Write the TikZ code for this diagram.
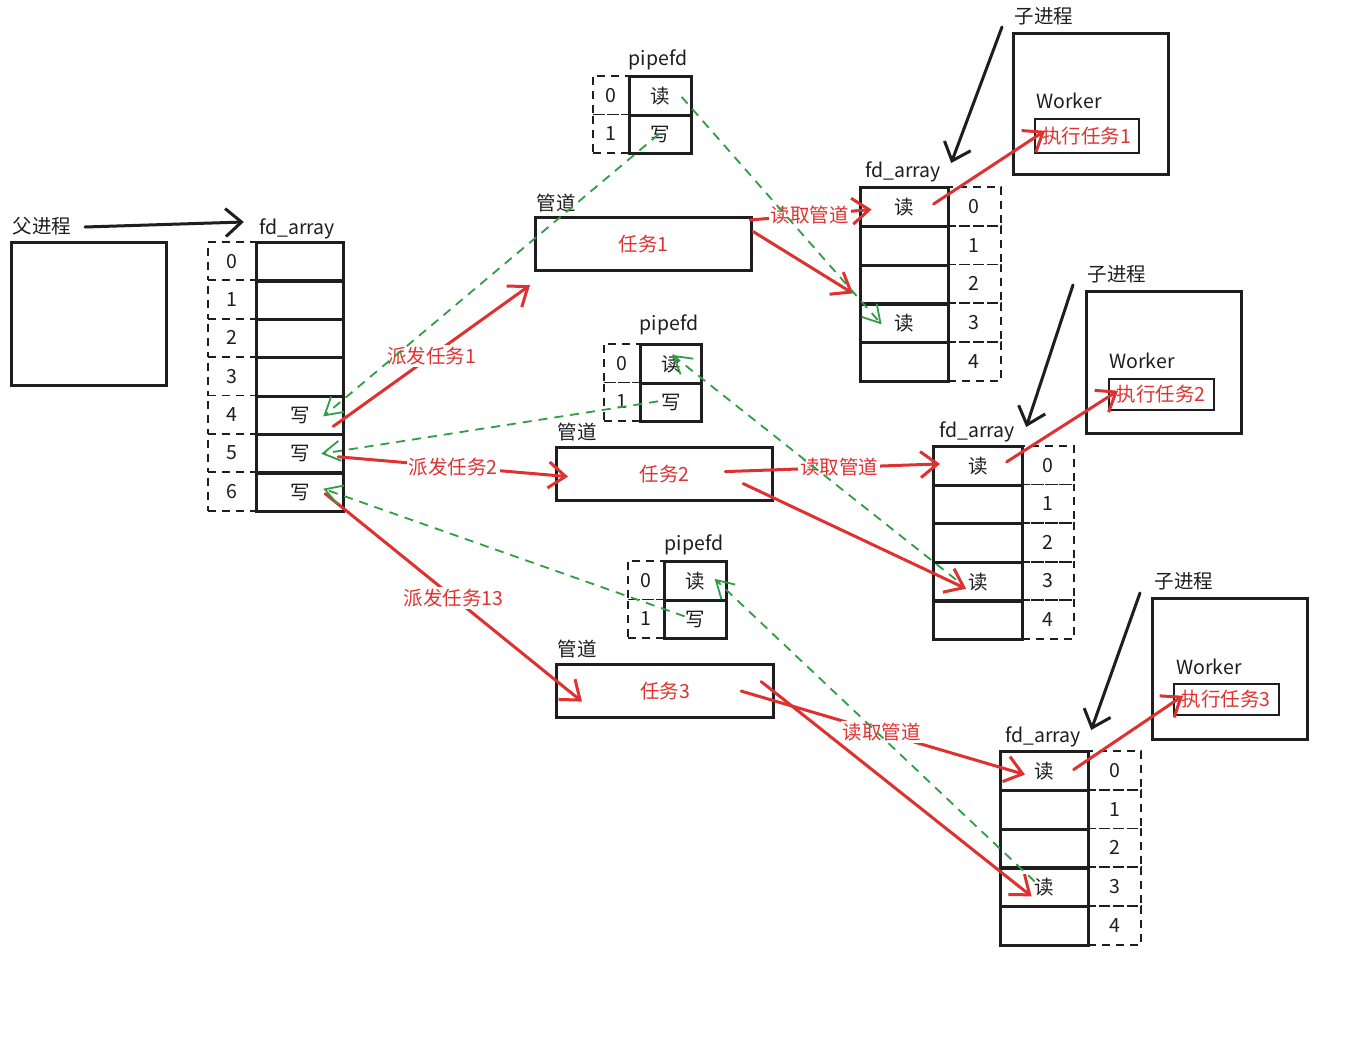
\documentclass[tikz,border=0pt]{standalone}
\usepackage{fontspec}
\newfontfamily\cjk{Noto Sans CJK SC}
\usetikzlibrary{arrows.meta,calc}
\definecolor{ink}{HTML}{1E1E1E}
\definecolor{xred}{HTML}{E03131}
\definecolor{xgreen}{HTML}{2F9E44}
\begin{document}
\begin{tikzpicture}[x=1pt,y=-1pt,
 every node/.style={font=\cjk\fontsize{19.5}{22}\selectfont, text=ink, inner sep=2pt},
 cell/.style={draw=ink, line width=3.2pt, anchor=north west, inner sep=0pt},
 idx/.style={draw=ink, line width=1.8pt, dash pattern=on 8pt off 6pt, anchor=north west, inner sep=0pt},
 box/.style={draw=ink, line width=3.2pt, anchor=north west, inner sep=0pt},
 thinbox/.style={draw=ink, line width=1.5pt, anchor=north west, inner sep=0pt, text=xred},
 redarr/.style={draw=xred, line width=3pt, line cap=round, -{Straight Barb[length=17pt,width=26pt]}},
 grnarr/.style={draw=xgreen, line width=1.8pt, dash pattern=on 9pt off 7pt, -{Straight Barb[length=17pt,width=20pt]}},
 blkarr/.style={draw=ink, line width=3pt, line cap=round, -{Straight Barb[length=16pt,width=28pt]}},
 lbl/.style={fill=white, text=xred, inner sep=2pt}
]
\useasboundingbox[fill=white] (0,0) rectangle (1350,1044);

% ---------- parent ----------
\node[box, minimum width=155pt, minimum height=143pt] (parent) at (10,241) {};
\node (lp) at (42,226) {父进程};
\node (fdp) at (297,229) {fd\_array};
\foreach \i/\t in {0/{},1/{},2/{},3/{},4/写,5/写,6/写} {
  \node[idx, minimum width=48pt, minimum height=38.4pt] (pi\i) at (207,{241+38.4*\i}) {\i};
  \node[cell, minimum width=87pt, minimum height=38.4pt] (pa\i) at (255,{241+38.4*\i}) {\t};
}

% ---------- pipe 1 ----------
\node (pf1l) at (658,60) {pipefd};
\foreach \i/\t in {0/读,1/写} {
  \node[idx, minimum width=36pt, minimum height=38.5pt] (pf1i\i) at (592,{75+38.5*\i}) {\i};
  \node[cell, minimum width=62pt, minimum height=38.5pt] (pf1c\i) at (628,{75+38.5*\i}) {\t};
}
\node (gd1) at (556,203) {管道};
\node[box, minimum width=216pt, minimum height=53pt, text=xred] (pipe1) at (534,216) {任务1};

% ---------- pipe 2 ----------
\node (pf2l) at (669,325) {pipefd};
\foreach \i/\t in {0/读,1/写} {
  \node[idx, minimum width=36pt, minimum height=38.5pt] (pf2i\i) at (603,{343+38.5*\i}) {\i};
  \node[cell, minimum width=61pt, minimum height=38.5pt] (pf2c\i) at (639,{343+38.5*\i}) {\t};
}
\node (gd2) at (577,432) {管道};
\node[box, minimum width=216pt, minimum height=53pt, text=xred] (pipe2) at (555,446) {任务2};

% ---------- pipe 3 ----------
\node (pf3l) at (694,545) {pipefd};
\foreach \i/\t in {0/读,1/写} {
  \node[idx, minimum width=36pt, minimum height=38.5pt] (pf3i\i) at (627,{560+38.5*\i}) {\i};
  \node[cell, minimum width=62pt, minimum height=38.5pt] (pf3c\i) at (663,{560+38.5*\i}) {\t};
}
\node (gd3) at (577,649) {管道};
\node[box, minimum width=217pt, minimum height=53pt, text=xred] (pipe3) at (555,663) {任务3};

% ---------- child 1 ----------
\node (fdc1) at (903,172) {fd\_array};
\foreach \i/\t in {0/读,1/{},2/{},3/读,4/{}} {
  \node[idx, minimum width=53pt, minimum height=38.8pt] (c1i\i) at (947,{186+38.8*\i}) {\i};
  \node[cell, minimum width=88pt, minimum height=38.8pt] (c1a\i) at (859,{186+38.8*\i}) {\t};
}
\node (lc1) at (1044,16) {子进程};
\node[box, minimum width=155pt, minimum height=141pt] (cp1) at (1012,32) {};
\node (wk1) at (1069,101) {Worker};
\node[thinbox, minimum width=104pt, minimum height=34pt] (w1) at (1034,118) {执行任务1};

% ---------- child 2 ----------
\node (fdc2) at (977,432) {fd\_array};
\foreach \i/\t in {0/读,1/{},2/{},3/读,4/{}} {
  \node[idx, minimum width=52pt, minimum height=38.6pt] (c2i\i) at (1021,{445+38.6*\i}) {\i};
  \node[cell, minimum width=89pt, minimum height=38.6pt] (c2a\i) at (932,{445+38.6*\i}) {\t};
}
\node (lc2) at (1117,274) {子进程};
\node[box, minimum width=155pt, minimum height=142pt] (cp2) at (1085,290) {};
\node (wk2) at (1142,361) {Worker};
\node[thinbox, minimum width=105pt, minimum height=31pt] (w2) at (1108,378) {执行任务2};

% ---------- child 3 ----------
\node (fdc3) at (1043,737) {fd\_array};
\foreach \i/\t in {0/读,1/{},2/{},3/读,4/{}} {
  \node[idx, minimum width=53pt, minimum height=38.8pt] (c3i\i) at (1087,{750+38.8*\i}) {\i};
  \node[cell, minimum width=88pt, minimum height=38.8pt] (c3a\i) at (999,{750+38.8*\i}) {\t};
}
\node (lc3) at (1184,581) {子进程};
\node[box, minimum width=155pt, minimum height=141pt] (cp3) at (1151,597) {};
\node (wk3) at (1209,667) {Worker};
\node[thinbox, minimum width=105pt, minimum height=31pt] (w3) at (1173,683) {执行任务3};

% ---------- black arrows ----------
\draw[blkarr] ($(parent.north west)+(75,-14)$) -- ($(pi0.north east)+(-13,-19)$);
\draw[blkarr] ($(cp1.north west)+(-10,-5)$) -- ($(c1a0.north east)+(1,-23)$);
\draw[blkarr] ($(cp2.north west)+(-12,-5)$) -- ($(c2a0.north east)+(2,-18)$);
\draw[blkarr] ($(cp3.north west)+(-11,-4)$) -- ($(c3a0.north east)+(1,-20)$);

% ---------- red dispatch ----------
\draw[redarr] ($(pa4.east)+(-12,11)$) -- node[lbl]{派发任务1} ($(pipe1.south west)+(-4,13)$);
\draw[redarr] ($(pa5.east)+(-7,3)$) -- node[lbl]{派发任务2} ($(pipe2.west)+(13,2.5)$);
\draw[redarr] ($(pa6.east)+(-20,1.5)$) -- node[lbl]{派发任务13} ($(pipe3.west)+(27,10.5)$);

% ---------- red reads ----------
\draw[redarr] ($(pipe1.north east)+(-3,4)$) -- node[lbl,pos=0.49]{读取管道} ($(c1a0.center)+(-33,2.5)$);
\draw[redarr] ($(pipe1.east)+(0,-12.5)$) -- ($(c1a3.north west)+(-6,-9)$);
\draw[redarr] ($(c1a0.center)+(29,-3)$) -- ($(w1.west)+(11,-5)$);

\draw[redarr] ($(pipe2.east)+(-49,-2.5)$) -- node[lbl,pos=0.53]{读取管道} ($(c2a0.west)+(8,-2)$);
\draw[redarr] ($(pipe2.east)+(-31,9.5)$) -- ($(c2a3.center)+(-12,7)$);
\draw[redarr] ($(c2a0.center)+(28.5,-4)$) -- ($(w2.west)+(10,-3.5)$);

\draw[redarr] ($(pipe3.east)+(-34,0)$) -- node[lbl,pos=0.495]{读取管道} ($(c3a0.west)+(26,3.6)$);
\draw[redarr] ($(pipe3.east)+(-14,-9.5)$) -- ($(c3a3.center)+(-13,9)$);
\draw[redarr] ($(c3a0.center)+(29,-1.4)$) -- ($(w3.west)+(10,-3.5)$);

% ---------- green dashed ----------
\draw[grnarr] ($(pf1c1.center)+(-2,0)$) -- ($(pa4.east)+(-22,1)$);
\draw[grnarr] ($(pf2c1.center)+(-13,-1)$) -- ($(pa5.east)+(-24,0)$);
\draw[grnarr] ($(pf3c1.center)+(-11,-3)$) -- ($(pa6.east)+(-22,-3.5)$);

\draw[grnarr] ($(pf1c0.center)+(21,1)$) -- ($(c1a3.center)+(-23,1)$);
\draw[grnarr] ($(c2a3.center)+(-22,-2)$) -- ($(pf2c0.center)+(1,-9)$);
\draw[grnarr] ($(c3a3.center)+(-10,-6)$) -- ($(pf3c0.center)+(19,-2)$);
\end{tikzpicture}
\end{document}
